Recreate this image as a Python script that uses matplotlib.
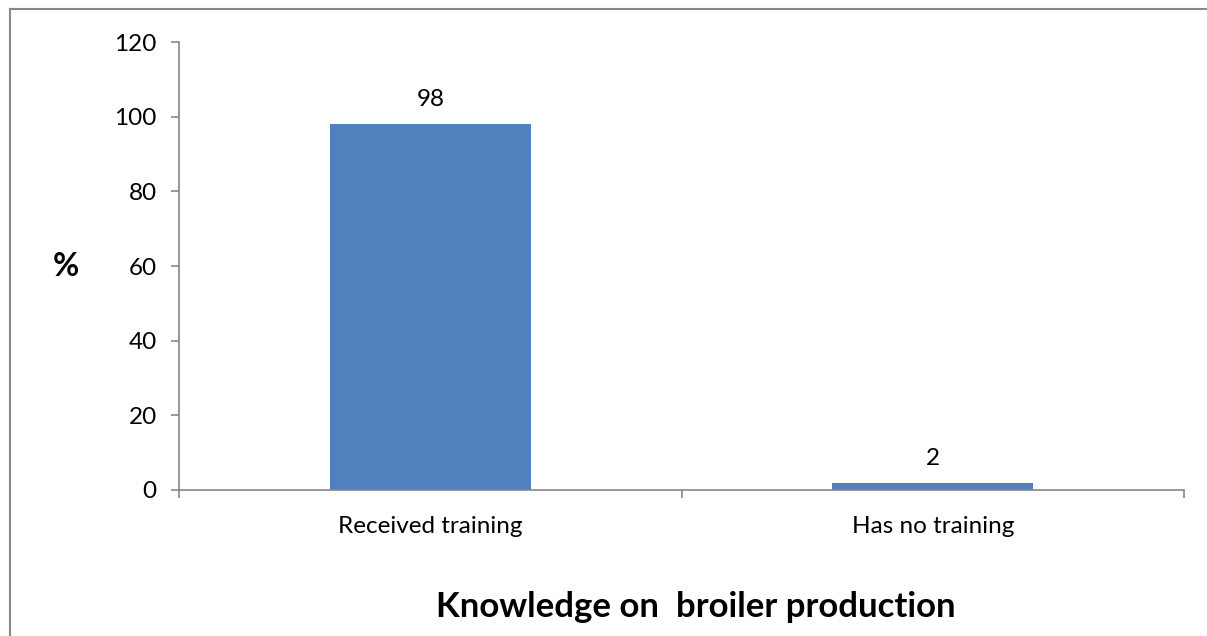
import matplotlib
matplotlib.use("Agg")
import matplotlib.pyplot as plt
from matplotlib.lines import Line2D

categories = ["Received training", "Has no training"]
values = [98, 2]
y_ticks = [0, 20, 40, 60, 80, 100, 120]
x_title = "Knowledge on  broiler production"
y_title = "%"

plt.rcParams['font.family'] = ['Lato', 'DejaVu Sans']

bar_color = "#4F81BD"
axis_color = "#868686"
label_size = 17.5

fig = plt.figure(figsize=(12.07, 6.36), dpi=100)
ax = fig.add_axes([179 / 1207, 1 - 490 / 636, (1184 - 179) / 1207, (490 - 42) / 636])

x = list(range(len(categories)))
ax.bar(x, values, width=0.4, color=bar_color, zorder=2)

for xi, v in zip(x, values):
    ax.annotate(f"{v}", (xi, v), xytext=(0, 10), textcoords="offset points",
                ha="center", va="bottom", fontsize=label_size, color="black")

ax.set_xlim(-0.5, len(categories) - 0.5)
ax.set_ylim(0, 120)
ax.set_yticks(y_ticks)
ax.set_yticklabels([str(t) for t in y_ticks], fontsize=label_size)
ax.set_xticks(x)
ax.set_xticklabels(categories, fontsize=label_size)
ax.set_xticks([i - 0.5 for i in range(len(categories) + 1)], minor=True)

ax.tick_params(axis="x", which="major", length=0, pad=19)
ax.tick_params(axis="x", which="minor", length=6, width=1.2, color=axis_color, direction="out")
ax.tick_params(axis="y", which="major", length=6, width=1.2, color=axis_color, direction="out", pad=10)

for side in ["top", "right"]:
    ax.spines[side].set_visible(False)
for side in ["left", "bottom"]:
    ax.spines[side].set_color(axis_color)
    ax.spines[side].set_linewidth(1.2)

fig.text(65.5 / 1207, 1 - 266 / 636, y_title, fontsize=23, fontweight="bold",
         ha="center", va="center")
fig.text(696 / 1207, 1 - 617 / 636, x_title, fontsize=25, fontweight="bold",
         ha="center", va="baseline")

# outer frame of the chart area (left and top edges)
fx, fy = 9.5 / 1207, 1 - 8.5 / 636
fig.add_artist(Line2D([fx, fx], [0, fy], transform=fig.transFigure,
                      color="#898989", linewidth=1.5))
fig.add_artist(Line2D([fx, 1], [fy, fy], transform=fig.transFigure,
                      color="#898989", linewidth=1.5))

fig.savefig("out.png", dpi=100)
